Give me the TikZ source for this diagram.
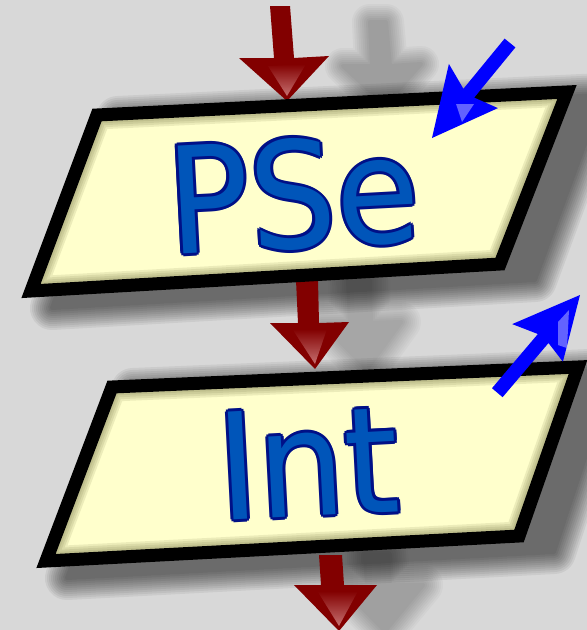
\documentclass[tikz,border=0pt]{standalone}
\usepackage{fontspec}
\newfontfamily\logofont{DejaVu Sans}
\definecolor{bgcol}{RGB}{216,216,216}
\definecolor{boxfill}{RGB}{255,255,204}
\definecolor{innershade}{RGB}{110,110,60}
\definecolor{arrowred}{RGB}{130,0,0}
\definecolor{arrowpink}{RGB}{215,140,140}
\definecolor{arrowblue}{RGB}{0,0,255}
\definecolor{bluehi}{RGB}{140,140,255}
\definecolor{textdark}{RGB}{0,16,135}
\definecolor{textlight}{RGB}{0,85,185}
% soft shadow: #1 xshift, #2 yshift, #3 max radius, #4 opacity per layer, #5 path
\newcommand\softshadow[5]{%
  \foreach \rr in {2,4,...,#3}{%
    \begin{scope}[transparency group, opacity=#4, shift={(#1,#2)}]
      \fill[black] #5;
      \draw[black, line width={2*\rr*1pt}, line join=round] #5;
    \end{scope}}}
\begin{document}
\begin{tikzpicture}[x=1pt,y=-1pt,
  boxborder/.style={draw=black, line width=13pt, line join=miter},
  redarrow/.style={fill=arrowred},
  bluearrow/.style={fill=arrowblue},
  logotext/.style={font=\logofont\fontsize{148}{148}\selectfont, inner sep=0pt,
      anchor=base, rotate=3}]
\fill[bgcol] (0,0) rectangle (587,630);
\useasboundingbox (0,0) rectangle (587,630);
% ---------- shapes as coordinates ----------
\coordinate (a1) at (97,115);  \coordinate (a2) at (567,92);
\coordinate (a3) at (500,264); \coordinate (a4) at (31,291);
\coordinate (b1) at (112,387); \coordinate (b2) at (578,367);
\coordinate (b3) at (519,536); \coordinate (b4) at (46,561);
% ---------- shadows ----------
\softshadow{98}{8}{18}{0.03}{(272,14) -- (274,58) -- (245,58) -- (287,97) -- (323,56) -- (292,58) -- (288,14) -- cycle}
\softshadow{52}{0}{20}{0.025}{(296,280) -- (298,323) -- (270,323) -- (315,369) -- (349,322) -- (319,323) -- (318,280) -- cycle}
\softshadow{46}{0}{20}{0.028}{(319,555) -- (321,585) -- (294,585) -- (339,631) -- (377,585) -- (344,585) -- (342,555) -- cycle}
\softshadow{28}{10}{22}{0.06}{(90,108) -- (575,85) -- (507,270) -- (24,298) -- cycle}
\softshadow{28}{10}{22}{0.06}{(105,380) -- (586,360) -- (526,542) -- (39,568) -- cycle}
% ---------- red arrows ----------
\fill[redarrow] (270,6) -- (274,58) -- (239,58) -- (287,101) -- (329,56) -- (294,58) -- (290,6) -- cycle;
\fill[redarrow] (296,280) -- (298,323) -- (270,323) -- (315,369) -- (349,322) -- (319,323) -- (318,280) -- cycle;
\fill[redarrow] (319,555) -- (321,585) -- (294,585) -- (339,631) -- (377,585) -- (344,585) -- (342,555) -- cycle;
\shade[top color=arrowred, bottom color=arrowpink, opacity=0.8] (268,66) -- (306,64) -- (287,96) -- cycle;
\shade[top color=arrowred, bottom color=arrowpink, opacity=0.8] (293,330) -- (327,329) -- (315,364) -- cycle;
\shade[top color=arrowred, bottom color=arrowpink, opacity=0.8] (318,592) -- (358,591) -- (339,626) -- cycle;
% ---------- boxes ----------
\foreach \bx in {a,b}{
  \fill[boxfill] (\bx1) -- (\bx2) -- (\bx3) -- (\bx4) -- cycle;
  \begin{scope}
    \clip (\bx1) -- (\bx2) -- (\bx3) -- (\bx4) -- cycle;
    \foreach \ww in {17,21,25,29}{
      \draw[innershade, opacity=0.13, line width=\ww pt, line join=miter] (\bx1) -- (\bx2) -- (\bx3) -- (\bx4) -- cycle;
    }
  \end{scope}
  \draw[boxborder] (\bx1) -- (\bx2) -- (\bx3) -- (\bx4) -- cycle;
}
% ---------- texts: dark outline copies, then lighter core ----------
\foreach \dx/\dy in {-3/0,3/0,0/-3,0/3,-2.1/-2.1,2.1/-2.1,-2.1/2.1,2.1/2.1}{
  \node[logotext, text=textdark, shift={(\dx,\dy)}] at (296,248) {\scalebox{0.92}[1]{PSe}};
  \node[logotext, text=textdark, shift={(\dx,\dy)}] at (311,516) {\scalebox{0.93}[1]{Int}};
}
\node[logotext, text=textlight] (pse) at (296,248) {\scalebox{0.92}[1]{PSe}};
\node[logotext, text=textlight] (int) at (311,516) {\scalebox{0.93}[1]{Int}};
% ---------- blue arrows ----------
\fill[bluearrow] (432,138) -- (448.9,63.9) -- (463.4,88.8) -- (504.6,38.6) -- (515.4,47.4) -- (474.2,97.6) -- (497.9,108.1) -- cycle;
\fill[bluehi, opacity=0.7] (456,104) -- (474,104) -- (462,122) -- cycle;
\fill[bluearrow] (580,295) -- (512.2,324.1) -- (537.9,334) -- (492,388.2) -- (502.6,397.2) -- (548.5,343) -- (562.9,361.7) -- cycle;
\fill[bluehi, opacity=0.7] (558,322) -- (569,310) -- (567,348) -- (558,345) -- cycle;
\end{tikzpicture}
\end{document}
